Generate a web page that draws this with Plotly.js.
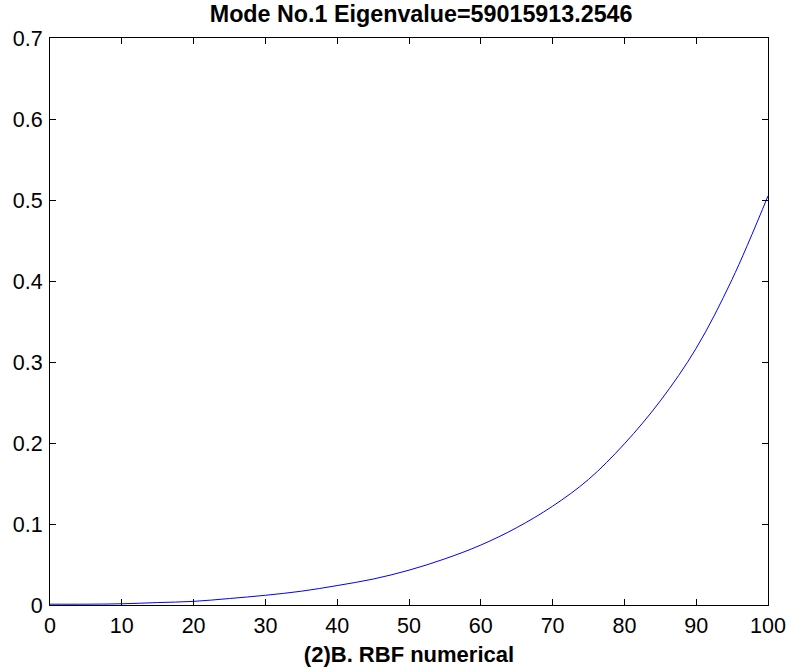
<!DOCTYPE html>
<html>
<head>
<meta charset="utf-8">
<script src="https://cdn.plot.ly/plotly-3.0.1.min.js"></script>
<style>
  html, body { margin: 0; padding: 0; background: #ffffff; }
  #chart { width: 792px; height: 671px; }
</style>
</head>
<body>
<div id="chart"></div>
<script>
// Data
const xValues = [0, 5, 10, 15, 20, 25, 30, 35, 40, 45, 50, 55, 60, 65, 70, 75, 80, 85, 90, 95, 100];
const yValues = [0.001, 0.001, 0.0015, 0.003, 0.0045, 0.008, 0.012, 0.017, 0.024, 0.032, 0.043, 0.057, 0.074, 0.0955, 0.122, 0.155, 0.199, 0.252, 0.317, 0.402, 0.505];
const xTicks = [0, 10, 20, 30, 40, 50, 60, 70, 80, 90, 100];
const yTicks = [0, 0.1, 0.2, 0.3, 0.4, 0.5, 0.6, 0.7];
const yTickLabels = ['0', '0.1', '0.2', '0.3', '0.4', '0.5', '0.6', '0.7'];
const chartTitle = 'Mode No.1 Eigenvalue=59015913.2546';
const xTitle = '(2)B. RBF numerical';

const fontFamily = '"Liberation Sans", Arial, Helvetica, sans-serif';

const trace = {
  x: xValues,
  y: yValues,
  type: 'scatter',
  mode: 'lines',
  line: { color: '#0000ff', width: 1, shape: 'spline', smoothing: 1.0 },
  hoverinfo: 'skip'
};

const axisCommon = {
  showgrid: false,
  zeroline: false,
  showline: true,
  linecolor: '#000000',
  linewidth: 1,
  mirror: 'allticks',
  ticks: 'inside',
  ticklen: 6,
  tickwidth: 1,
  tickcolor: '#000000',
  tickfont: { family: fontFamily, size: 21.5, color: '#000000' }
};

const layout = {
  width: 792,
  height: 671,
  paper_bgcolor: '#ffffff',
  plot_bgcolor: '#ffffff',
  showlegend: false,
  margin: { l: 50, r: 24, t: 38, b: 66, pad: 0 },
  title: {
    text: '<b>' + chartTitle + '</b>',
    font: { family: fontFamily, size: 23.3, color: '#000000' },
    x: 0.5169, xanchor: 'center',
    y: 0.979, yanchor: 'middle',
    xref: 'paper', yref: 'container'
  },
  xaxis: Object.assign({}, axisCommon, {
    range: [0, 100],
    tickvals: xTicks,
    ticktext: xTicks.map(String),
    ticklabelstandoff: 1,
    title: {
      text: '<b>' + xTitle + '</b>',
      font: { family: fontFamily, size: 22, color: '#000000' },
      standoff: 9
    }
  }),
  yaxis: Object.assign({}, axisCommon, {
    range: [0, 0.7],
    tickvals: yTicks,
    ticktext: yTickLabels,
    ticklabelstandoff: 2
  })
};

Plotly.newPlot('chart', [trace], layout, { staticPlot: true, displayModeBar: false });
</script>
</body>
</html>
